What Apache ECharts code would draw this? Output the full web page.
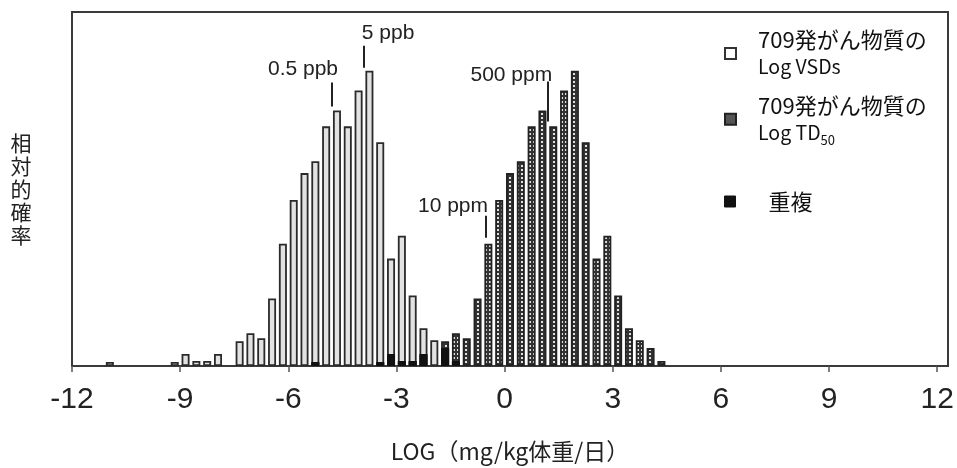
<!DOCTYPE html>
<html>
<head>
<meta charset="utf-8">
<script src="https://cdn.jsdelivr.net/npm/echarts@6/dist/echarts.min.js"></script>
<style>
html, body { margin: 0; background: #fff; }
#main { width: 957px; height: 468px; }
</style>
</head>
<body>
<div id="main"></div>
<script>
// bin centres, log(mg/kg/day), 0.3 wide
var bins = [-10.95, -10.65, -10.35, -10.05, -9.75, -9.45, -9.15, -8.85, -8.55, -8.25,
    -7.95, -7.65, -7.35, -7.05, -6.75, -6.45, -6.15, -5.85, -5.55, -5.25,
    -4.95, -4.65, -4.35, -4.05, -3.75, -3.45, -3.15, -2.85, -2.55, -2.25,
    -1.95, -1.65, -1.35, -1.05, -0.75, -0.45, -0.15, 0.15, 0.45, 0.75,
    1.05, 1.35, 1.65, 1.95, 2.25, 2.55, 2.85, 3.15, 3.45, 3.75,
    4.05, 4.35];
var vsd = [4, 0, 0, 0, 0, 0, 4, 12, 5, 5,
    12, 0, 25, 33, 28, 68, 123, 167, 194, 206,
    241, 257, 241, 277, 297, 225, 108, 131, 71, 38,
    26, 18, 5, 0, 0, 0, 0, 0, 0, 0,
    0, 0, 0, 0, 0, 0, 0, 0, 0, 0,
    0, 0];
var td50 = [0, 0, 0, 0, 0, 0, 0, 0, 0, 0,
    0, 0, 0, 0, 0, 0, 0, 0, 0, 4,
    0, 0, 0, 0, 0, 4, 12, 5, 5, 12,
    0, 25, 33, 28, 68, 123, 167, 194, 206, 241,
    257, 241, 277, 297, 225, 108, 131, 71, 38, 26,
    18, 5];
var overlap = [0, 0, 0, 0, 0, 0, 0, 0, 0, 0,
    0, 0, 0, 0, 0, 0, 0, 0, 0, 4,
    0, 0, 0, 0, 0, 4, 12, 5, 5, 12,
    0, 18, 5, 0, 0, 0, 0, 0, 0, 0,
    0, 0, 0, 0, 0, 0, 0, 0, 0, 0,
    0, 0];
var xTicks = [-12, -9, -6, -3, 0, 3, 6, 9, 12];

// labelled markers: line from y1 to y2 at x, text anchored at (tx, ty)
var ppbNotes = [
    {text: '5 ppb', x: -3.9, y1: 300, y2: 322, tx: -3.96, ty: 335, align: 'left'},
    {text: '0.5 ppb', x: -4.79, y1: 261, y2: 285, tx: -4.62, ty: 298, align: 'right'}
];
var ppmNotes = [
    {text: '500 ppm', x: 1.21, y1: 246, y2: 286, tx: 1.32, ty: 292, align: 'right'},
    {text: '10 ppm', x: -0.51, y1: 129, y2: 151, tx: -0.46, ty: 161, align: 'right'}
];

function pairs(arr) {
    var out = [];
    arr.forEach(function (v, i) {
        if (v > 0) out.push([bins[i], v]);
    });
    return out;
}

function noteLines(notes) {
    return notes.map(function (n) {
        return [{coord: [n.x, n.y1]}, {coord: [n.x, n.y2]}];
    });
}

function noteTexts(notes) {
    return notes.map(function (n) {
        return {
            coord: [n.tx, n.ty],
            label: {formatter: n.text, align: n.align}
        };
    });
}

// dotted fill for the TD50 bars
var pat = document.createElement('canvas');
pat.width = 4;
pat.height = 4;
var ctx = pat.getContext('2d');
ctx.fillStyle = '#333';
ctx.fillRect(0, 0, 4, 4);
ctx.fillStyle = '#e0e0e0';
ctx.fillRect(1, 1, 2, 2);

var markLineStyle = {
    symbol: 'none',
    silent: true,
    label: {show: false},
    lineStyle: {color: '#222', width: 2, type: 'solid'}
};
var markPointStyle = {
    symbol: 'circle',
    symbolSize: 1,
    silent: true,
    itemStyle: {color: 'rgba(0,0,0,0)'},
    label: {
        show: true,
        position: 'inside',
        color: '#222',
        fontSize: 21,
        fontFamily: 'Liberation Sans',
        verticalAlign: 'middle'
    }
};

var myChart = echarts.init(document.getElementById('main'));

var option = {
    animation: false,
    grid: {
        left: 72,
        right: 9,
        top: 12,
        bottom: 100,
        show: true,
        borderColor: '#3a3a3a',
        borderWidth: 2
    },
    legend: [
        {
            data: [
                {name: 'VSD', icon: 'rect', itemStyle: {color: '#fff', borderColor: '#333', borderWidth: 2}},
                {name: 'TD50', icon: 'rect', itemStyle: {color: '#555', borderColor: '#222', borderWidth: 2}}
            ],
            orient: 'vertical',
            left: 724,
            top: 29,
            padding: 0,
            itemGap: 18,
            itemWidth: 11,
            itemHeight: 11,
            selectedMode: false,
            formatter: function (name) {
                if (name === 'VSD') return '{a|709発がん物質の}\n{b|Log VSDs}';
                return '{a|709発がん物質の}\n{b|Log TD}{s|50}';
            },
            textStyle: {
                padding: [0, 0, 0, 17],
                rich: {
                    a: {fontSize: 22, lineHeight: 27, color: '#111', fontFamily: 'Noto Sans CJK JP'},
                    b: {fontSize: 19.5, lineHeight: 27, color: '#111', fontFamily: 'Noto Sans CJK JP'},
                    s: {fontSize: 13, lineHeight: 14, verticalAlign: 'bottom', color: '#111', fontFamily: 'Noto Sans CJK JP'}
                }
            }
        },
        {
            data: [{name: '重複', icon: 'rect', itemStyle: {color: '#111', borderColor: '#111', borderWidth: 1}}],
            orient: 'vertical',
            left: 724,
            top: 188,
            padding: 0,
            itemWidth: 11,
            itemHeight: 11,
            selectedMode: false,
            textStyle: {
                padding: [0, 0, 0, 28],
                fontSize: 22,
                lineHeight: 27,
                color: '#111',
                fontFamily: 'Noto Sans CJK JP'
            }
        }
    ],
    xAxis: {
        type: 'value',
        min: -12,
        max: 12.3,
        offset: 5,
        axisLine: {show: false},
        splitLine: {show: false},
        axisTick: {
            show: true,
            length: 6,
            customValues: xTicks,
            lineStyle: {color: '#555', width: 1.5}
        },
        axisLabel: {
            customValues: xTicks,
            margin: 14,
            fontSize: 30,
            color: '#222',
            fontFamily: 'Liberation Sans'
        },
        name: 'LOG（mg/kg体重/日）',
        nameLocation: 'middle',
        nameGap: 69,
        nameTextStyle: {
            fontSize: 23,
            color: '#222',
            fontFamily: 'Noto Sans CJK JP'
        }
    },
    yAxis: {
        type: 'value',
        min: 0,
        max: 356,
        axisLine: {show: false},
        axisTick: {show: false},
        axisLabel: {show: false},
        splitLine: {show: false},
        name: '相\n対\n的\n確\n率',
        nameLocation: 'middle',
        nameRotate: 0,
        nameGap: 51,
        nameTextStyle: {
            align: 'center',
            fontSize: 21,
            lineHeight: 23,
            padding: [0, 0, 58, 0],
            color: '#222',
            fontFamily: 'Noto Sans CJK JP'
        }
    },
    series: [
        {
            name: 'VSD',
            type: 'bar',
            data: pairs(vsd),
            barWidth: 8,
            barGap: '-100%',
            itemStyle: {color: '#e2e2e2', borderColor: '#2a2a2a', borderWidth: 1.8},
            markLine: Object.assign({data: noteLines(ppbNotes)}, markLineStyle),
            markPoint: Object.assign({data: noteTexts(ppbNotes)}, markPointStyle)
        },
        {
            name: 'TD50',
            type: 'bar',
            data: pairs(td50),
            barWidth: 8,
            barGap: '-100%',
            itemStyle: {color: {image: pat, repeat: 'repeat'}, borderColor: '#222', borderWidth: 1.8},
            markLine: Object.assign({data: noteLines(ppmNotes)}, markLineStyle),
            markPoint: Object.assign({data: noteTexts(ppmNotes)}, markPointStyle)
        },
        {
            name: '重複',
            type: 'bar',
            data: pairs(overlap),
            barWidth: 8,
            barGap: '-100%',
            itemStyle: {color: '#111', borderColor: '#111', borderWidth: 1}
        }
    ]
};
myChart.setOption(option);
</script>
</body>
</html>
